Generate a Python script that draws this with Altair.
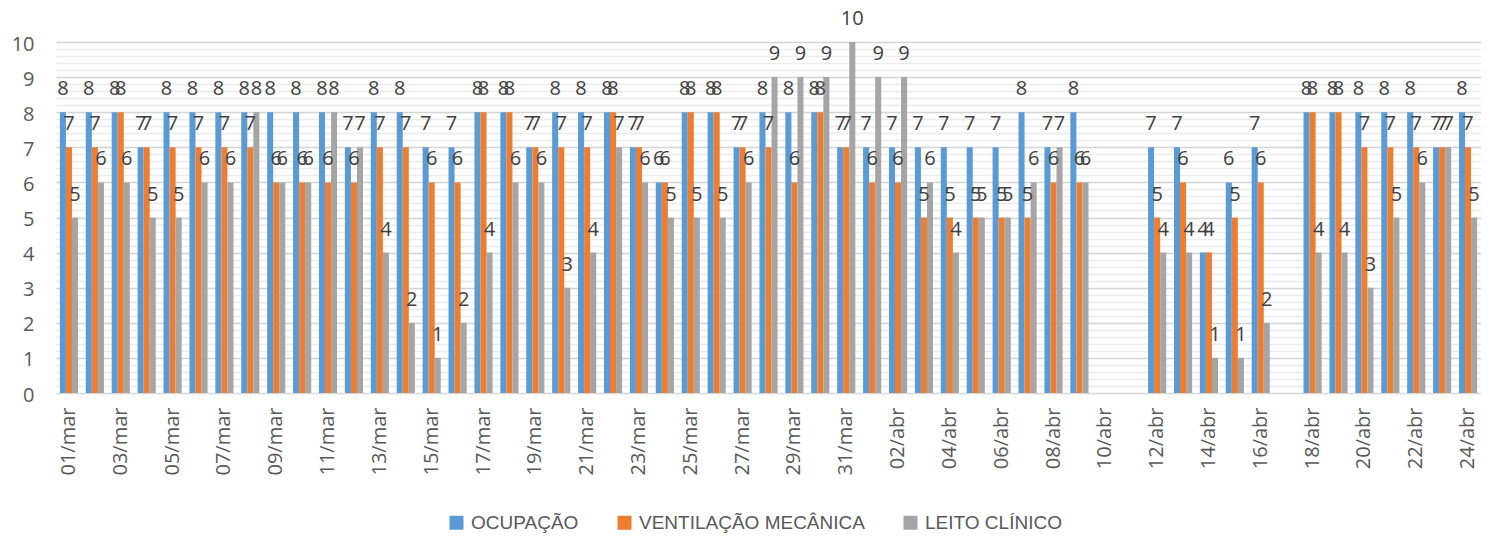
import altair as alt
import pandas as pd

dates = [f"{d:02d}/mar" for d in range(1, 32)] + [f"{d:02d}/abr" for d in range(1, 25)]
tick_labels = dates[::2]
series = ["OCUPAÇÃO", "VENTILAÇÃO MECÂNICA", "LEITO CLÍNICO"]
colors = ["#5B9BD5", "#ED7D31", "#A5A5A5"]

ocupacao = [8, 8, 8, 7, 8, 8, 8, 8, 8, 8, 8, 7, 8, 8, 7, 7, 8, 8, 7, 8, 8, 8, 7, 6, 8, 8, 7, 8, 8, 8, 7,
            7, 7, 7, 7, 7, 7, 8, 7, 8, None, None, 7, 7, 4, 6, 7, None, 8, 8, 8, 8, 8, 7, 8]
ventilacao = [7, 7, 8, 7, 7, 7, 7, 7, 6, 6, 6, 6, 7, 7, 6, 6, 8, 8, 7, 7, 7, 8, 7, 6, 8, 8, 7, 7, 6, 8, 7,
              6, 6, 5, 5, 5, 5, 5, 6, 6, None, None, 5, 6, 4, 5, 6, None, 8, 8, 7, 7, 7, 7, 7]
leito = [5, 6, 6, 5, 5, 6, 6, 8, 6, 6, 8, 7, 4, 2, 1, 2, 4, 6, 6, 3, 4, 7, 6, 5, 5, 5, 6, 9, 9, 9, 10,
         9, 9, 6, 4, 5, 5, 6, 7, 6, None, None, 4, 4, 1, 1, 2, None, 4, 4, 3, 5, 6, 7, 5]

rows = []
for order, (name, vals) in enumerate(zip(series, [ocupacao, ventilacao, leito])):
    for d, v in zip(dates, vals):
        if v is not None:
            rows.append({"data": d, "serie": name, "ordem": order, "valor": v})
df = pd.DataFrame(rows)

W, H = 1425, 351
grid_values = [i / 5 for i in range(51)]

x_enc = alt.X(
    "data:N",
    scale=alt.Scale(domain=dates, paddingInner=0.3, paddingOuter=0.15),
    axis=alt.Axis(
        values=tick_labels, labelAngle=270, labelFont="Open Sans", labelFontSize=20,
        labelColor="#595959", labelPadding=14, ticks=False, domainColor="#D9D9D9",
        title=None, grid=False, labelOverlap=False,
    ),
)
y_enc = alt.Y(
    "valor:Q",
    scale=alt.Scale(domain=[0, 10], nice=False),
    axis=alt.Axis(
        values=grid_values,
        labelExpr="abs(datum.value - round(datum.value)) < 0.001 ? format(datum.value, 'd') : ''",
        labelFont="Open Sans", labelFontSize=20, labelColor="#595959", labelPadding=22,
        labelOffset=2,
        ticks=False, domain=False, title=None, labelOverlap=False,
        gridColor={"condition": {"test": "abs(datum.value - round(datum.value)) < 0.001",
                                 "value": "#D4D4D4"}, "value": "#ECECEC"},
        gridWidth=1.3,
    ),
)
xoff = alt.XOffset("ordem:O", scale=alt.Scale(paddingInner=0, paddingOuter=0))

base = alt.Chart(df).encode(x=x_enc, xOffset=xoff, y=y_enc)

bars = base.mark_bar().encode(
    color=alt.Color(
        "serie:N",
        scale=alt.Scale(domain=series, range=colors),
        legend=alt.Legend(
            orient="none", legendX=391, legendY=471, direction="horizontal", title=None,
            symbolType="square", symbolSize=196, symbolStrokeWidth=0, symbolOpacity=1,
            labelFont="Liberation Sans", labelFontSize=19, labelColor="#595959",
            labelOffset=5, columnPadding=36, labelLimit=400,
        ),
    ),
)

labels = base.mark_text(
    baseline="alphabetic", dy=-17, font="Open Sans", fontSize=20, color="#404040"
).encode(text="valor:Q")

chart = (
    alt.layer(bars, labels)
    .properties(
        width=W, height=H,
        autosize=alt.AutoSizeParams(type="none"),
        padding={"left": 48, "top": 34, "right": 0, "bottom": 140},
        background="white",
    )
    .configure_view(stroke=None)
)

chart.save("out.html", embed_options={"renderer": "svg", "actions": False})
